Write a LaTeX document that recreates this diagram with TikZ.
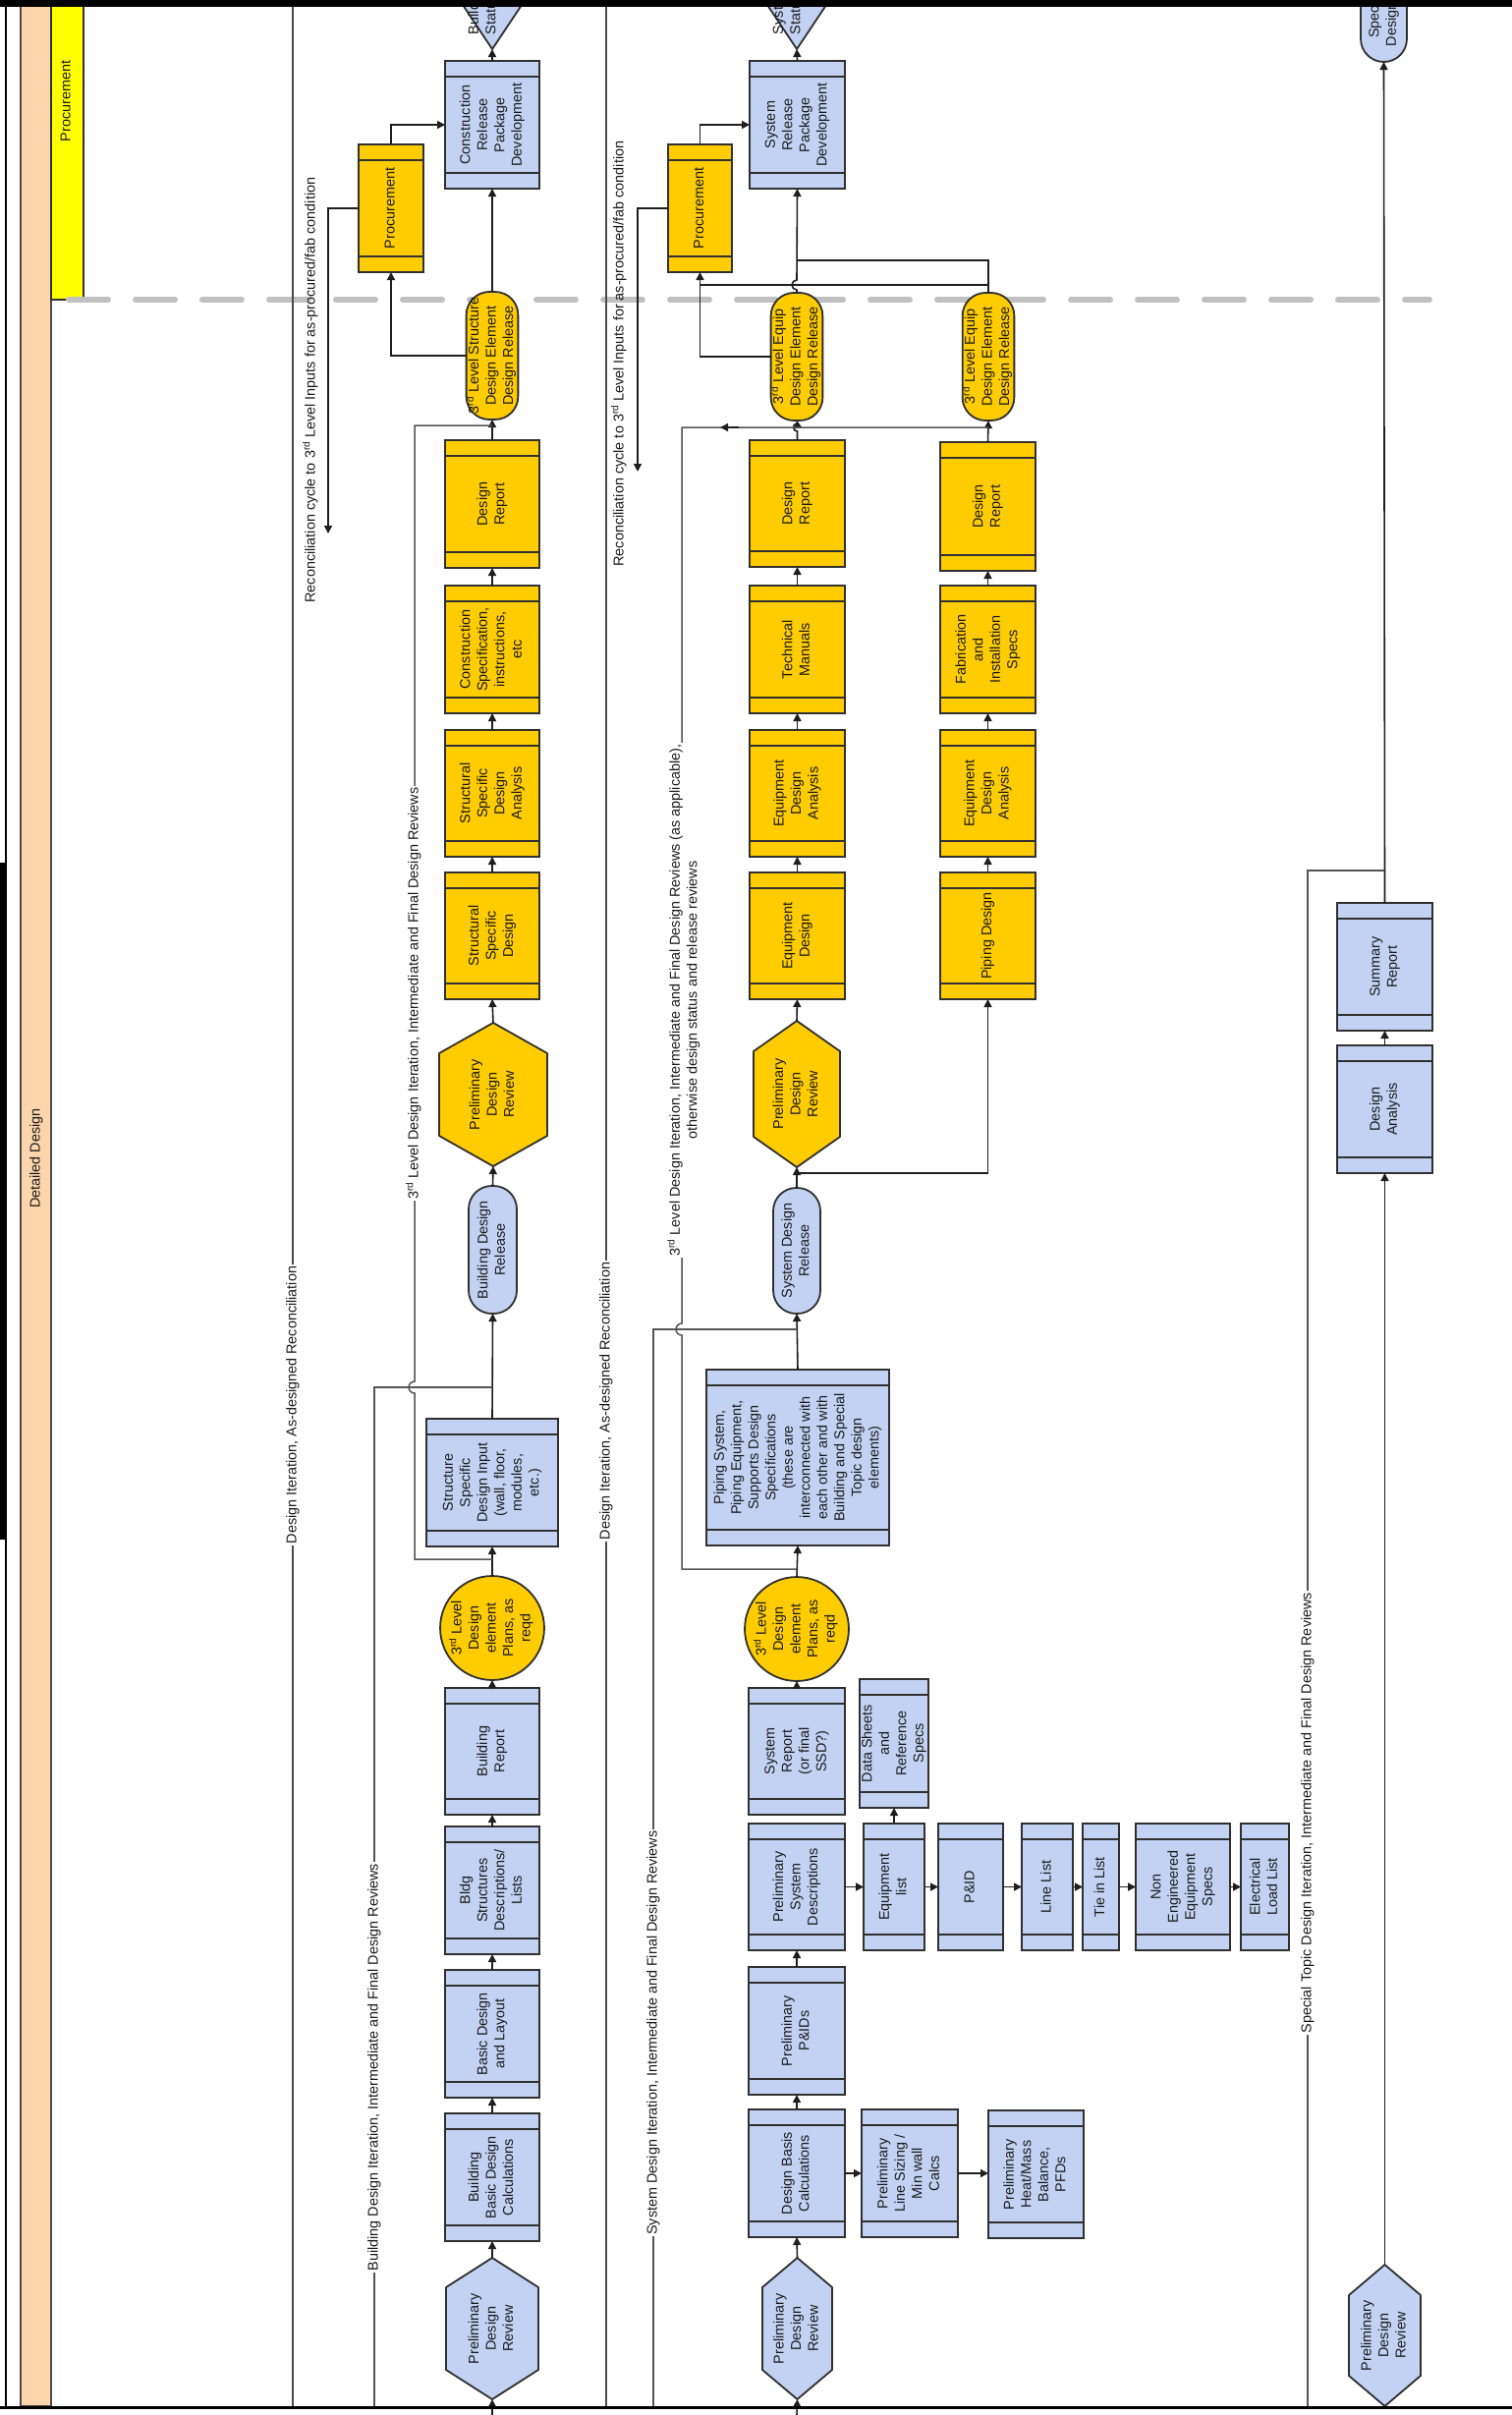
\documentclass[tikz,border=0pt]{standalone}
\usepackage{graphicx}
\usepackage{fontspec}
\setmainfont{Liberation Sans}
\usetikzlibrary{arrows.meta}
\definecolor{bluefill}{HTML}{C3D2F2}
\definecolor{goldfill}{HTML}{FFCC00}
\definecolor{yelbar}{HTML}{FFFF00}
\definecolor{peach}{HTML}{FDD5AC}
\definecolor{dashgray}{HTML}{C0C0C0}
\definecolor{edge}{HTML}{303030}
\definecolor{lk}{HTML}{1E1E1E}
\definecolor{fbc}{HTML}{555555}
\definecolor{lanec}{HTML}{4A4A4A}
\definecolor{txt}{HTML}{1A1A1A}
\newcommand\rtxt[1]{\rotatebox{90}{\begin{tabular}{@{}c@{}}#1\end{tabular}}}
\newcommand\ltxt[1]{\rotatebox{90}{\begin{tabular}{@{}l@{}}#1\end{tabular}}}
\newcommand\mybox[7]{\node[bandbox, fill=#6, minimum width={(#4-#2)*1pt}, minimum height={(#5-#3)*1pt}] (#1) at ({(#2+#4)/2},{(#3+#5)/2}) {\rtxt{#7}};}
\newcommand\mystad[7]{\node[stad, fill=#6, minimum width={(#4-#2)*1pt}, minimum height={(#5-#3)*1pt}] (#1) at ({(#2+#4)/2},{(#3+#5)/2}) {\rtxt{#7}};}
\newcommand\myhex[8]{%
  \filldraw[draw=edge, line width=1.8pt, fill=#7, line join=round] ({(#2+#4)/2},#3) -- (#4,{#3+#6}) -- (#4,{#5-#6}) -- ({(#2+#4)/2},#5) -- (#2,{#5-#6}) -- (#2,{#3+#6}) -- cycle;
  \node[txtnode, minimum width={(#4-#2)*1pt}, minimum height={(#5-#3)*1pt}] (#1) at ({(#2+#4)/2},{(#3+#5)/2}) {\rtxt{#8}};}
\newcommand\rdsup{3\textsuperscript{rd}}
\tikzset{
  txtnode/.style={inner sep=0pt, outer sep=0pt, text=txt},
  bandbox/.style={draw=edge, line width=1.8pt, inner sep=0pt, outer sep=0pt, text=txt,
    path picture={\draw[edge, line width=1.4pt]
      ([yshift=-16pt]path picture bounding box.north west) -- ([yshift=-16pt]path picture bounding box.north east)
      ([yshift=16pt]path picture bounding box.south west) -- ([yshift=16pt]path picture bounding box.south east);}},
  stad/.style={draw=edge, line width=1.8pt, inner sep=0pt, outer sep=0pt, text=txt, rounded corners=23.5pt},
  circsty/.style={circle, draw=edge, line width=1.8pt, inner sep=0pt, outer sep=0pt, text=txt, minimum size=90pt},
  arr/.style={draw=lk, line width=1.6pt, -{Triangle[length=8pt,width=8pt]}},
  ln/.style={draw=lk, line width=1.6pt},
  fb/.style={draw=fbc, line width=1.5pt},
  lane/.style={draw=lanec, line width=1.6pt},
  lbl/.style={fill=white, inner sep=1.5pt, text=txt}
}
\begin{document}
\begin{tikzpicture}[x=1pt,y=-1pt,font=\fontsize{14.4}{17.5}\selectfont]
\useasboundingbox (0,0) rectangle (1539,2458);
\fill[white] (0,0) rectangle (1539,2458);
% lane header strips
\filldraw[fill=peach, draw=lanec, line width=1.5pt] (21,6) rectangle (52,2449);
\filldraw[fill=yelbar, draw=edge, line width=1.5pt] (52,6) rectangle (85,305);
\node[txtnode] (hdrDD) at (37,1179) {\rtxt{Detailed Design}};
\node[txtnode] (hdrPr) at (68,103) {\rtxt{Procurement}};
% dashed phase boundary
\draw[dashgray, line width=6pt, line cap=round, dash pattern=on 40pt off 28pt] (70,305) -- (1455,305);
% lane separators
\coordinate (L1t) at (298,6); \coordinate (L1b) at (298,2449);
\coordinate (L2t) at (617,6); \coordinate (L2b) at (617,2449);
\draw[lane] (L1t) -- (L1b);
\draw[lane] (L2t) -- (L2b);

% ---------------- Building column ----------------
\filldraw[fill=bluefill, draw=edge, line width=1.8pt, line join=round] (441,-40) -- (561,-40) -- (501,50) -- cycle;
\coordinate (bTriTip) at (501,50);
\node[txtnode, anchor=south] (bTri) at (492,35) {\ltxt{Building\\Status}};
\mybox{bCRPD}{453}{62}{549}{192}{bluefill}{Construction\\Release\\Package\\Development}
\mybox{bProc}{365}{147}{431}{277}{goldfill}{Procurement}
\mystad{bRel3}{476}{297}{526}{427}{goldfill}{\rdsup{} Level Structure\\Design Element\\Design Release}
\mybox{bDR}{453}{448}{549}{578}{goldfill}{Design\\Report}
\mybox{bCS}{453}{596}{549}{726}{goldfill}{Construction\\Specification,\\instructions,\\etc}
\mybox{bSSDA}{453}{743}{549}{872}{goldfill}{Structural\\Specific\\Design\\Analysis}
\mybox{bSSD}{453}{888}{549}{1017}{goldfill}{Structural\\Specific\\Design}
\myhex{bHex}{447}{1041}{557}{1187}{31}{goldfill}{Preliminary\\Design\\Review}
\mystad{bRel}{477}{1207}{526}{1337}{bluefill}{Building Design\\Release}
\mybox{bSSDI}{434}{1444}{568}{1574}{bluefill}{Structure\\Specific\\Design Input\\(wall, floor,\\modules,\\etc.)}
\node[circsty, fill=goldfill] (bCirc) at (501,1657) {\rtxt{\rdsup{} Level\\Design\\element\\Plans, as\\reqd}};
\mybox{bReport}{453}{1718}{549}{1847}{bluefill}{Building\\Report}
\mybox{bDesc}{453}{1859}{549}{1989}{bluefill}{Bldg\\Structures\\Descriptions/\\Lists}
\mybox{bLayout}{453}{2005}{549}{2135}{bluefill}{Basic Design\\and Layout}
\mybox{bCalc}{453}{2151}{549}{2281}{bluefill}{Building\\Basic Design\\Calculations}
\myhex{bPDR}{454}{2298}{548}{2442}{30}{bluefill}{Preliminary\\Design\\Review}

% ---------------- System column ----------------
\filldraw[fill=bluefill, draw=edge, line width=1.8pt, line join=round] (751,-40) -- (871,-40) -- (811,50) -- cycle;
\coordinate (sTriTip) at (811,50);
\node[txtnode, anchor=south] (sTri) at (802,35) {\ltxt{System\\Status}};
\mybox{sCRPD}{763}{62}{860}{192}{bluefill}{System\\Release\\Package\\Development}
\mybox{sProc}{680}{147}{745}{277}{goldfill}{Procurement}
\mystad{sRel1}{787}{298}{835}{428}{goldfill}{\rdsup{} Level Equip\\Design Element\\Design Release}
\mystad{sRel2}{982}{298}{1030}{428}{goldfill}{\rdsup{} Level Equip\\Design Element\\Design Release}
\mybox{sDR1}{763}{448}{860}{577}{goldfill}{Design\\Report}
\mybox{sTM}{763}{596}{860}{726}{goldfill}{Technical\\Manuals}
\mybox{sEDA1}{763}{743}{860}{872}{goldfill}{Equipment\\Design\\Analysis}
\mybox{sED}{763}{888}{860}{1017}{goldfill}{Equipment\\Design}
\myhex{sHex}{767}{1039}{855}{1188}{31}{goldfill}{Preliminary\\Design\\Review}
\mybox{sDR2}{957}{450}{1054}{581}{goldfill}{Design\\Report}
\mybox{sFIS}{957}{596}{1054}{726}{goldfill}{Fabrication\\and\\Installation\\Specs}
\mybox{sEDA2}{957}{743}{1054}{872}{goldfill}{Equipment\\Design\\Analysis}
\mybox{sPD}{957}{888}{1054}{1017}{goldfill}{Piping Design}
\mystad{sRel}{787}{1209}{835}{1337}{bluefill}{System Design\\Release}
\mybox{sPip}{719}{1394}{905}{1573}{bluefill}{Piping System,\\Piping Equipment,\\Supports Design\\Specifications\\(these are\\interconnected with\\each other and with\\Building and Special\\Topic design\\elements)}
\node[circsty, fill=goldfill] (sCirc) at (811,1658) {\rtxt{\rdsup{} Level\\Design\\element\\Plans, as\\reqd}};
\mybox{sRep}{762}{1718}{860}{1847}{bluefill}{System\\Report\\(or final\\SSD?)}
\mybox{sPSD}{762}{1856}{860}{1985}{bluefill}{Preliminary\\System\\Descriptions}
\mybox{sPPID}{762}{2002}{860}{2132}{bluefill}{Preliminary\\P\&IDs}
\mybox{sCalc}{762}{2147}{860}{2277}{bluefill}{Design Basis\\Calculations}
\myhex{sPDR}{776}{2298}{847}{2442}{30}{bluefill}{Preliminary\\Design\\Review}
\mybox{sEq}{879}{1856}{941}{1985}{bluefill}{Equipment\\list}
\mybox{sData}{879}{1709}{941}{1840}{bluefill}{Data Sheets\\and\\Reference\\Specs}
\mybox{sPID}{955}{1856}{1021}{1985}{bluefill}{P\&ID}
\mybox{sLL}{1040}{1856}{1092}{1985}{bluefill}{Line List}
\mybox{sTie}{1102}{1856}{1139}{1985}{bluefill}{Tie in List}
\mybox{sNEES}{1156}{1856}{1252}{1985}{bluefill}{Non\\Engineered\\Equipment\\Specs}
\mybox{sELL}{1263}{1856}{1312}{1985}{bluefill}{Electrical\\Load List}
\mybox{sSize}{877}{2147}{975}{2277}{bluefill}{Preliminary\\Line Sizing /\\Min wall\\Calcs}
\mybox{sHMB}{1006}{2148}{1103}{2278}{bluefill}{Preliminary\\Heat/Mass\\Balance,\\PFDs}

% ---------------- Special topic column ----------------
\mystad{tSpec}{1385}{-70}{1432}{63}{bluefill}{Special Topic\\Design Release}
\mybox{tSR}{1361}{919}{1458}{1049}{bluefill}{Summary\\Report}
\mybox{tDA}{1361}{1064}{1458}{1194}{bluefill}{Design\\Analysis}
\myhex{tPDR}{1373}{2305}{1446}{2449}{31}{bluefill}{Preliminary\\Design\\Review}

% ---------------- connectors: building ----------------
\coordinate (bIn) at (501,2458);
\draw[arr] (bIn) -- (bPDR.south);
\draw[arr] (bPDR.north) -- (bCalc.south);
\draw[arr] (bCalc.north) -- (bLayout.south);
\draw[arr] (bLayout.north) -- (bDesc.south);
\draw[arr] (bDesc.north) -- (bReport.south);
\draw[arr] (bReport.north) -- (bCirc.south);
\draw[arr] (bCirc.north) -- (bSSDI.south);
\draw[arr] (bSSDI.north) -- (bRel.south);
\draw[arr] (bRel.north) -- (bHex.south);
\draw[arr] (bHex.north) -- (bSSD.south);
\draw[arr] (bSSD.north) -- (bSSDA.south);
\draw[arr] (bSSDA.north) -- (bCS.south);
\draw[arr] (bCS.north) -- (bDR.south);
\draw[arr] (bDR.north) -- (bRel3.south);
\draw[arr] (bRel3.north) -- (bCRPD.south);
\draw[arr] (bCRPD.north) -- (bTriTip);
\draw[arr] (bRel3.west) -| (bProc.south);
\draw[arr] (bProc.north) |- (bCRPD.west);
\coordinate (bRecEnd) at (334,543);
\draw[arr] (bProc.west) -| (bRecEnd);
\coordinate (bJ1) at (501,1587); \coordinate (bJ2) at (501,433);
\draw[fb] (bJ1) -- (422,1587) -- (422,1418) arc (90:270:6) -- (422,433) -- (bJ2);
\coordinate (bJ3) at (501,1412); \coordinate (bEnd7) at (381,2449);
\draw[fb] (bJ3) -- (381,1412) -- (bEnd7);

% ---------------- connectors: system ----------------
\coordinate (sIn) at (811,2458);
\draw[arr] (sIn) -- (sPDR.south);
\draw[arr] (sPDR.north) -- (sCalc.south);
\draw[arr] (sCalc.north) -- (sPPID.south);
\draw[arr] (sPPID.north) -- (sPSD.south);
\draw[arr] (sRep.north) -- (sCirc.south);
\draw[arr] (sCirc.north) -- (sPip.south);
\draw[arr] (sPip.north) -- (sRel.south);
\draw[arr] (sRel.north) -- (sHex.south);
\draw[arr] (sHex.north) -- (sED.south);
\draw[arr] (sED.north) -- (sEDA1.south);
\draw[arr] (sEDA1.north) -- (sTM.south);
\draw[arr] (sTM.north) -- (sDR1.south);
\draw[arr] (sDR1.north) -- (811.5,439) arc (90:270:4) -- (sRel1.south);
\draw[arr] (sPD.north) -- (sEDA2.south);
\draw[arr] (sEDA2.north) -- (sFIS.south);
\draw[arr] (sFIS.north) -- (sDR2.south);
\draw[arr] (sDR2.north) -- (sRel2.south);
\draw[arr] (sRel1.north) -- (811,295) arc (90:270:5) -- (sCRPD.south);
\draw[arr] (sCRPD.north) -- (sTriTip);
\draw[arr] (sRel1.west) -| (sProc.south);
\draw[arr] (sProc.north) |- (sCRPD.west);
\coordinate (sRecEnd) at (649,480);
\draw[arr] (sProc.west) -| (sRecEnd);
\coordinate (sJ4) at (811,265);
\draw[ln] (sRel2.north) -- (1006,265) -- (sJ4);
\coordinate (sJ5) at (1006,290); \coordinate (sJ6) at (712.5,290);
\draw[ln] (sJ5) -- (sJ6);
\coordinate (sJ7) at (811,1194);
\draw[arr] (sJ7) -| (sPD.south);
\coordinate (sJ8) at (811,1597); \coordinate (sJ9) at (1006,435);
\draw[fb] (sJ8) -- (694,1597) -- (694,1359) arc (90:270:6) -- (694,435) -- (sJ9);
\draw[arr] (752,435) -- (733,435);
\coordinate (sJ10) at (811,1353); \coordinate (sEnd8) at (665,2449);
\draw[fb] (sJ10) -- (665,1353) -- (sEnd8);
\draw[arr] (sPSD.east) -- (sEq.west);
\draw[arr] (sEq.east) -- (sPID.west);
\draw[arr] (sPID.east) -- (sLL.west);
\draw[arr] (sLL.east) -- (sTie.west);
\draw[arr] (sTie.east) -- (sNEES.west);
\draw[arr] (sNEES.east) -- (sELL.west);
\draw[arr] (sEq.north) -- (sData.south);
\draw[arr] (sCalc.east) -- (sSize.west);
\draw[arr] (sSize.east) -- (sSize.east -| sHMB.west);

% ---------------- connectors: special topic ----------------
\draw[arr] (tPDR.north) -- (tDA.south);
\draw[arr] (tDA.north) -- (tSR.south);
\draw[arr] (tSR.north) -- (tSpec.south);
\coordinate (tJ) at (1409,886); \coordinate (tEnd) at (1331,2449);
\draw[fb] (tJ) -- (1331,886) -- (tEnd);

% ---------------- labels ----------------
\node[lbl] (lab1) at (298,1430) {\rtxt{Design Iteration, As-designed Reconciliation}};
\node[lbl] (lab2) at (617,1426) {\rtxt{Design Iteration, As-designed Reconciliation}};
\node[txtnode] (lab3) at (317,397) {\rtxt{Reconciliation cycle to \rdsup{} Level Inputs for as-procured/fab condition}};
\node[txtnode] (lab4) at (631,360) {\rtxt{Reconciliation cycle to \rdsup{} Level Inputs for as-procured/fab condition}};
\node[lbl] (lab5) at (422,1011) {\rtxt{\rdsup{} Level Design Iteration, Intermediate and Final Design Reviews}};
\node[lbl] (lab6) at (697,1018) {\rtxt{\rdsup{} Level Design Iteration, Intermediate and Final Design Reviews (as applicable),\\otherwise design status and release reviews}};
\node[lbl] (lab7) at (381,2104) {\rtxt{Building Design Iteration, Intermediate and Final Design Reviews}};
\node[lbl] (lab8) at (665,2069) {\rtxt{System Design Iteration, Intermediate and Final Design Reviews}};
\node[lbl] (lab9) at (1331,1845) {\rtxt{Special Topic Design Iteration, Intermediate and Final Design Reviews}};

% ---------------- frame ----------------
\fill[black] (0,0) rectangle (1539,7);
\draw[black, line width=3pt] (0,2450) -- (1539,2450);
\draw[black, line width=2pt] (6,0) -- (6,2451);
\fill[black] (0,878) rectangle (5,1567);
\end{tikzpicture}
\end{document}
